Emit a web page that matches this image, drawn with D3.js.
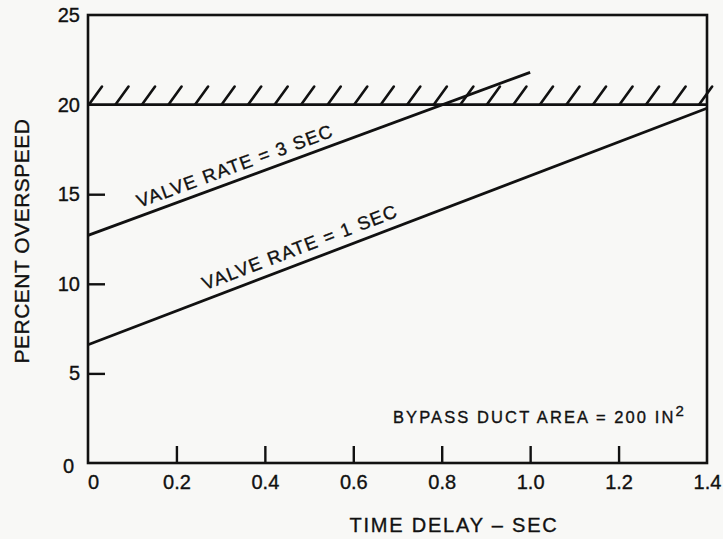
<!DOCTYPE html>
<html>
<head>
<meta charset="utf-8">
<script src="https://cdn.jsdelivr.net/npm/d3@7"></script>
<style>
  body { margin: 0; background: #f8f8f6; }
  svg { display: block; }
  text { font-family: "Liberation Sans", Arial, Helvetica, sans-serif; fill: #111; stroke: #111; stroke-width: 0.35; }
</style>
</head>
<body>
<svg id="chart" width="723" height="539"></svg>
<script>
// Time delay (sec) ticks and percent overspeed ticks
const xTicks = [0, 0.2, 0.4, 0.6, 0.8, 1.0, 1.2, 1.4];
const yTicks = [0, 5, 10, 15, 20, 25];

// Overspeed limit (hatched line)
const limitOverspeed = 20;

// Valve rate = 3 sec curve
const rate3Delay = [0, 1.0];
const rate3Overspeed = [12.7, 21.8];

// Valve rate = 1 sec curve
const rate1Delay = [0, 1.4];
const rate1Overspeed = [6.6, 19.8];

const curveLabels = ["VALVE RATE = 3 SEC", "VALVE RATE = 1 SEC"];
const noteText = "BYPASS DUCT AREA = 200 IN";
const xTitle = "TIME DELAY \u2013 SEC";
const yTitle = "PERCENT OVERSPEED";

const ink = "#111";
const svg = d3.select("#chart");

const x = d3.scaleLinear().domain([0, 1.4]).range([88, 707]);
const y = d3.scaleLinear().domain([0, 25]).range([463, 15]);

// Frame
svg.append("rect")
  .attr("x", x(0)).attr("y", y(25))
  .attr("width", x(1.4) - x(0)).attr("height", y(0) - y(25))
  .attr("fill", "none").attr("stroke", ink).attr("stroke-width", 2.6);

// Axes with inward ticks
const xAxis = d3.axisBottom(x)
  .tickValues(xTicks)
  .tickFormat(d => d === 0 ? "0" : d3.format(".1f")(d))
  .tickSizeInner(-17).tickSizeOuter(0).tickPadding(12);
const gx = svg.append("g").attr("transform", `translate(0,${y(0)})`).call(xAxis);
gx.select(".domain").remove();
gx.selectAll(".tick line").attr("stroke", ink).attr("stroke-width", 2.4)
  .filter(d => d === 0 || d === 1.4).remove();
gx.selectAll(".tick text").attr("font-size", 20).attr("fill", ink)
  .attr("dx", d => d === 0 ? 5 : 0);

const yAxis = d3.axisLeft(y)
  .tickValues(yTicks)
  .tickSizeInner(-17).tickSizeOuter(0).tickPadding(8);
const gy = svg.append("g").attr("transform", `translate(${x(0)},0)`).call(yAxis);
gy.select(".domain").remove();
gy.selectAll(".tick line").attr("stroke", ink).attr("stroke-width", 2.4)
  .filter(d => d === 0 || d === 20 || d === 25).remove();
gy.selectAll(".tick text").attr("font-size", 20).attr("fill", ink)
  .attr("dx", d => d === 0 ? -6 : 0).attr("dy", d => d === 0 ? "0.45em" : "0.32em");

// Overspeed limit with hatching
svg.append("line")
  .attr("x1", x(0)).attr("x2", x(1.4))
  .attr("y1", y(limitOverspeed)).attr("y2", y(limitOverspeed))
  .attr("stroke", ink).attr("stroke-width", 2.8);

svg.append("g").selectAll("line")
  .data(d3.range(0, 1.39, 0.06))
  .join("line")
  .attr("x1", d => x(d) + 1).attr("y1", y(limitOverspeed))
  .attr("x2", d => x(d) + 14).attr("y2", y(limitOverspeed) - 18)
  .attr("stroke", ink).attr("stroke-width", 2.6).attr("stroke-linecap", "round");

// Curves
const curves = [
  { delay: rate3Delay, overspeed: rate3Overspeed, label: curveLabels[0], at: 0.123, off: 8 },
  { delay: rate1Delay, overspeed: rate1Overspeed, label: curveLabels[1], at: 0.272, off: 9 }
];

const line = d3.line().x(d => x(d[0])).y(d => y(d[1]));

curves.forEach(c => {
  const pts = d3.zip(c.delay, c.overspeed);
  svg.append("path")
    .attr("d", line(pts))
    .attr("fill", "none").attr("stroke", ink).attr("stroke-width", 2.8);

  const [x0, y0] = [x(c.delay[0]), y(c.overspeed[0])];
  const [x1, y1] = [x(c.delay[1]), y(c.overspeed[1])];
  const angle = Math.atan2(y1 - y0, x1 - x0) * 180 / Math.PI;
  const v = c.overspeed[0] + (c.overspeed[1] - c.overspeed[0]) * (c.at - c.delay[0]) / (c.delay[1] - c.delay[0]);
  svg.append("text")
    .attr("transform", `translate(${x(c.at)},${y(v)}) rotate(${angle})`)
    .attr("y", -c.off)
    .attr("font-size", 18.5)
    .attr("letter-spacing", 1.3)
    .text(c.label);
});

// Annotation
const note = svg.append("text")
  .attr("x", 393).attr("y", 423)
  .attr("font-size", 16.5)
  .attr("letter-spacing", 2.1)
  .text(noteText);
note.append("tspan")
  .attr("dy", -7).attr("font-size", 15)
  .text("2");

// Axis titles
svg.append("text")
  .attr("x", 454).attr("y", 532)
  .attr("text-anchor", "middle")
  .attr("font-size", 20)
  .attr("letter-spacing", 1.8)
  .text(xTitle);

svg.append("text")
  .attr("transform", `translate(29,241) rotate(-90)`)
  .attr("text-anchor", "middle")
  .attr("font-size", 21)
  .attr("letter-spacing", 0.5)
  .text(yTitle);
</script>
</body>
</html>
